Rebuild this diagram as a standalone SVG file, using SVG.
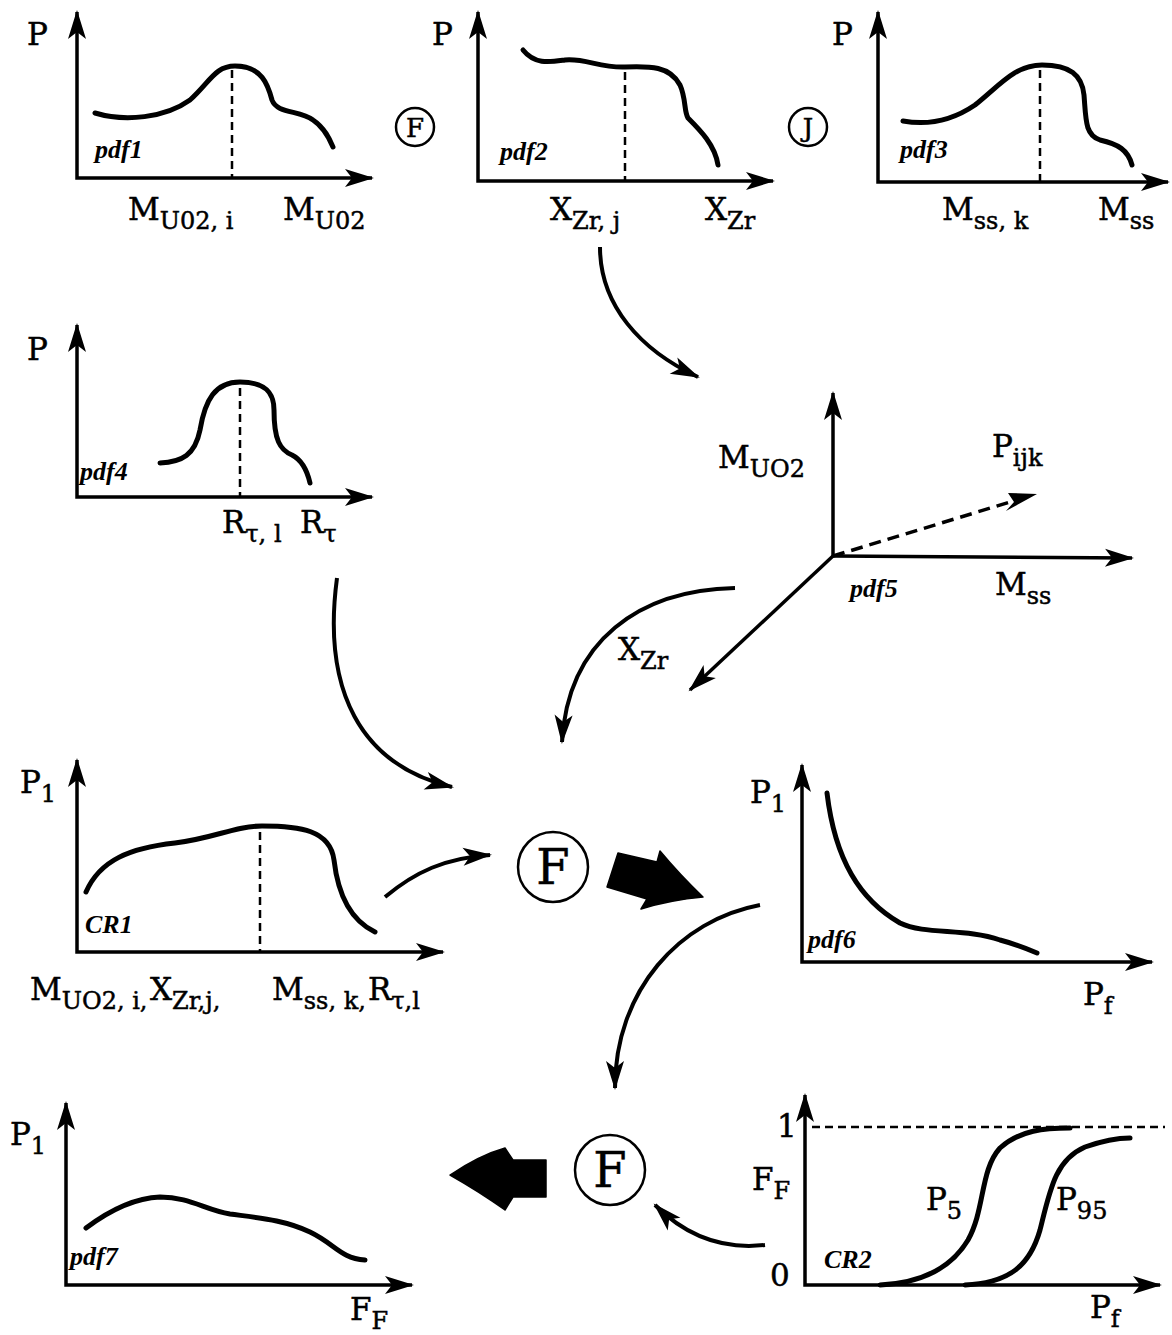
<svg xmlns="http://www.w3.org/2000/svg" width="1172" height="1335" viewBox="0 0 1172 1335">
<defs>
<marker id="ah" viewBox="-30 -12 34 24" markerWidth="34" markerHeight="24" refX="0" refY="0" orient="auto-start-reverse" markerUnits="userSpaceOnUse" overflow="visible">
<path d="M2,0 L-27,-9 L-20,0 L-27,9 Z" fill="#000"/>
</marker>
<style>
.ax{stroke:#000;stroke-width:3.5;fill:none;marker-start:url(#ah);marker-end:url(#ah)}
.ax1{stroke:#000;stroke-width:3.5;fill:none;marker-end:url(#ah)}
.cv{stroke:#000;stroke-width:5;fill:none;stroke-linecap:round;stroke-linejoin:round}
.ds{stroke:#000;stroke-width:2.5;stroke-dasharray:8 5;fill:none}
.cn{stroke:#000;stroke-width:4;fill:none;marker-end:url(#ah)}
.lb{font-family:"DejaVu Serif","Liberation Serif",serif;font-size:31px;fill:#000;stroke:#000;stroke-width:0.5}
.sb{font-size:24px}
.pd{font-family:"Liberation Serif",serif;font-style:italic;font-weight:bold;font-size:26px;fill:#000}
.ring{stroke:#000;stroke-width:2.5;fill:none}
.fat{fill:#000;stroke:#000;stroke-width:1.5;stroke-linejoin:round}
</style>
</defs>
<rect width="1172" height="1335" fill="#fff"/>

<g id="pdf1">
<path class="ax" d="M77,12 L77,178 L372,178"/>
<path class="cv" d="M95,113 C125,122 165,118 190,100 C210,82 215,66 235,66 C262,66 268,85 272,100 C277,114 300,110 313,120 C325,128 330,140 333,147"/>
<line class="ds" x1="232" y1="70" x2="232" y2="178"/>
<text class="lb" x="27" y="45">P</text>
<text class="pd" x="95" y="158">pdf1</text>
<text class="lb" x="128" y="220">M<tspan class="sb" dy="9">U02, i</tspan></text>
<text class="lb" x="283" y="220">M<tspan class="sb" dy="9">U02</tspan></text>
</g>

<g id="opF1">
<circle class="ring" cx="415" cy="127" r="19"/>
<text class="lb" x="415" y="137" text-anchor="middle" style="font-size:26px">F</text>
</g>

<g id="pdf2">
<path class="ax" d="M478,12 L478,181 L773,181"/>
<path class="cv" d="M523,50 C535,65 550,62 565,60 C585,58 600,68 625,67 C650,66 670,66 680,85 C686,98 684,112 688,118 C700,130 715,145 718,165"/>
<line class="ds" x1="625" y1="72" x2="625" y2="181"/>
<text class="lb" x="432" y="45">P</text>
<text class="pd" x="500" y="160">pdf2</text>
<text class="lb" x="550" y="220">X<tspan class="sb" dy="9">Zr, j</tspan></text>
<text class="lb" x="705" y="220">X<tspan class="sb" dy="9">Zr</tspan></text>
</g>

<g id="opJ">
<circle class="ring" cx="808" cy="127" r="19"/>
<text class="lb" x="808" y="137" text-anchor="middle" style="font-size:26px">J</text>
</g>

<g id="pdf3">
<path class="ax" d="M878,12 L878,182 L1168,182"/>
<path class="cv" d="M903,121 C925,125 950,122 975,105 C1000,85 1015,65 1042,65 C1070,65 1082,75 1084,95 C1086,120 1085,135 1100,140 C1118,144 1128,150 1132,165"/>
<line class="ds" x1="1040" y1="70" x2="1040" y2="182"/>
<text class="lb" x="832" y="45">P</text>
<text class="pd" x="900" y="158">pdf3</text>
<text class="lb" x="942" y="220">M<tspan class="sb" dy="9">ss, k</tspan></text>
<text class="lb" x="1098" y="220">M<tspan class="sb" dy="9">ss</tspan></text>
</g>

<g id="pdf4">
<path class="ax" d="M77,325 L77,497 L372,497"/>
<path class="cv" d="M160,463 C182,462 195,455 200,430 C205,400 215,382 240,382 C265,382 274,392 274,410 C274,440 280,450 292,455 C302,460 307,470 310,483"/>
<line class="ds" x1="240" y1="388" x2="240" y2="497"/>
<text class="lb" x="27" y="360">P</text>
<text class="pd" x="80" y="480">pdf4</text>
<text class="lb" x="222" y="533">R<tspan class="sb" dy="9">τ, l</tspan></text>
<text class="lb" x="300" y="533">R<tspan class="sb" dy="9">τ</tspan></text>
</g>

<g id="pdf5">
<path class="ax1" d="M833,556 L833,393"/>
<path class="ax1" d="M833,556 L1132,558"/>
<path class="ax1" d="M833,556 L690,690"/>
<line class="ds" x1="833" y1="556" x2="1020" y2="499" style="stroke-width:3.5;stroke-dasharray:12 7"/>
<path d="M1037,494 L1008,493 L1014,502 L1006,511 Z" fill="#000"/>
<text class="lb" x="718" y="468">M<tspan class="sb" dy="9">UO2</tspan></text>
<text class="lb" x="992" y="457">P<tspan class="sb" dy="9">ijk</tspan></text>
<text class="pd" x="850" y="597">pdf5</text>
<text class="lb" x="995" y="595">M<tspan class="sb" dy="9">ss</tspan></text>
<text class="lb" x="618" y="660">X<tspan class="sb" dy="9">Zr</tspan></text>
</g>

<g id="cr1">
<path class="ax" d="M77,760 L77,952 L443,952"/>
<path class="cv" d="M86,892 C100,860 130,848 175,843 C215,838 235,826 262,826 C300,826 330,830 334,860 C338,895 350,920 375,932"/>
<line class="ds" x1="260" y1="832" x2="260" y2="952"/>
<text class="lb" x="20" y="793">P<tspan class="sb" dy="9">1</tspan></text>
<text class="pd" x="85" y="933">CR1</text>
<text class="lb" y="1000"><tspan x="30">M</tspan><tspan class="sb" dy="9">UO2, i,</tspan><tspan x="150" dy="-9">X</tspan><tspan class="sb" dy="9">Zr,j,</tspan><tspan x="272" dy="-9">M</tspan><tspan class="sb" dy="9">ss, k,</tspan><tspan x="368" dy="-9">R</tspan><tspan class="sb" dy="9">τ,l</tspan></text>
</g>

<g id="opF2">
<circle class="ring" cx="553" cy="867" r="35"/>
<text class="lb" x="553" y="884" text-anchor="middle" style="font-size:48px">F</text>
</g>

<g id="pdf6">
<path class="ax" d="M802,765 L802,962 L1152,962"/>
<path class="cv" d="M827,793 C835,860 860,900 900,923 C925,935 965,928 1000,940 C1015,944 1030,950 1037,953"/>
<text class="lb" x="750" y="803">P<tspan class="sb" dy="9">1</tspan></text>
<text class="pd" x="808" y="948">pdf6</text>
<text class="lb" x="1083" y="1005">P<tspan class="sb" dy="9">f</tspan></text>
</g>

<g id="opF3">
<circle class="ring" cx="610" cy="1170" r="35"/>
<text class="lb" x="610" y="1187" text-anchor="middle" style="font-size:48px">F</text>
</g>

<g id="pdf7">
<path class="ax" d="M66,1103 L66,1285 L412,1285"/>
<path class="cv" d="M86,1228 C110,1210 135,1198 160,1197 C190,1197 205,1210 230,1214 C260,1218 285,1220 310,1232 C335,1244 340,1258 365,1260"/>
<text class="lb" x="10" y="1145">P<tspan class="sb" dy="9">1</tspan></text>
<text class="pd" x="70" y="1265">pdf7</text>
<text class="lb" x="350" y="1320">F<tspan class="sb" dy="9">F</tspan></text>
</g>

<g id="cr2">
<path class="ax" d="M805,1095 L805,1285 L1160,1285"/>
<line class="ds" x1="812" y1="1127" x2="1165" y2="1127"/>
<path class="cv" d="M880,1285 C920,1283 950,1270 968,1240 C985,1210 980,1170 1000,1148 C1020,1130 1045,1128 1070,1128"/>
<path class="cv" d="M965,1285 C1010,1283 1030,1265 1040,1230 C1050,1190 1055,1160 1085,1147 C1105,1140 1120,1138 1130,1138"/>
<text class="lb" x="777" y="1137">1</text>
<text class="lb" x="752" y="1190">F<tspan class="sb" dy="9">F</tspan></text>
<text class="lb" x="770" y="1286">0</text>
<text class="pd" x="824" y="1268">CR2</text>
<text class="lb" x="926" y="1210">P<tspan class="sb" dy="9">5</tspan></text>
<text class="lb" x="1056" y="1210">P<tspan class="sb" dy="9">95</tspan></text>
<text class="lb" x="1090" y="1318">P<tspan class="sb" dy="9">f</tspan></text>
</g>

<g id="connectors">
<path class="cn" d="M600,247 C600,305 640,350 698,377"/>
<path class="cn" d="M337,578 C322,690 360,765 452,787"/>
<path class="cn" d="M735,588 C640,590 568,640 562,742"/>
<path class="cn" d="M385,897 C415,872 445,858 490,855"/>
<path class="cn" d="M760,905 C680,920 615,990 615,1088"/>
<path class="cn" d="M765,1245 C720,1250 685,1235 655,1205"/>
<path class="fat" d="M618,853 L657,862 L660,851 Q680,875 703,897 Q670,900 641,909 L647,899 L607,887 Z"/>
<path class="fat" d="M450,1175 Q480,1155 505,1148 L513,1160 L546,1160 L546,1197 L513,1197 L505,1210 Q480,1192 450,1175 Z"/>
</g>
</svg>
